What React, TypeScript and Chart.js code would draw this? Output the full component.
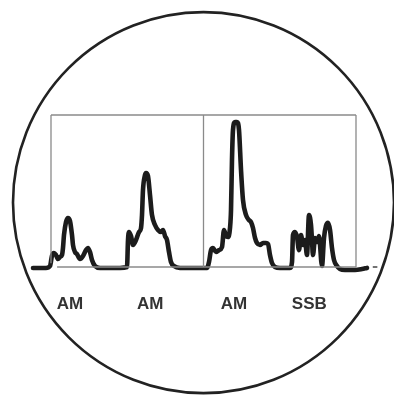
import React, { useEffect, useRef } from "react";
import { Chart, registerables } from "chart.js";

Chart.register(...registerables);

// Spectrum trace: frequency (divisions) and amplitude (divisions)
const traceFreq = [
  -0.59, -0.361, -0.164, -0.033, 0.033, 0.098, 0.164, 0.23, 0.295, 0.361, 0.393, 0.426, 0.492, 0.557, 0.623,
  0.689, 0.721, 0.787, 0.852, 0.951, 1.049, 1.148, 1.213, 1.279, 1.344, 1.443, 1.607, 1.934, 2.262,
  2.492, 2.525, 2.557, 2.623, 2.689, 2.787, 2.885, 2.951, 2.984, 3.016, 3.082, 3.115, 3.18, 3.246, 3.311,
  3.41, 3.508, 3.607, 3.672, 3.738, 3.803, 3.869, 3.934, 4.033, 4.23, 4.557, 4.885,
  5.115, 5.18, 5.246, 5.311, 5.41, 5.508, 5.607, 5.672, 5.738, 5.803, 5.869, 5.902, 5.934, 5.967, 6.033,
  6.098, 6.164, 6.23, 6.295, 6.393, 6.492, 6.557, 6.623, 6.689, 6.754, 6.852, 6.951, 7.049, 7.115, 7.18,
  7.246, 7.344, 7.508, 7.836, 7.902, 7.934, 8.0, 8.066, 8.131, 8.197, 8.262, 8.328, 8.393, 8.459, 8.525,
  8.557, 8.59, 8.656, 8.721, 8.787, 8.885, 8.951, 9.016, 9.082, 9.148, 9.213, 9.279, 9.377, 9.475, 9.639,
  9.967, 10.197, 10.361,
];
const traceAmp = [
  -0.05, -0.05, -0.05, 0.05, 0.6, 0.74, 0.63, 0.42, 0.53, 0.63, 1.0, 1.68, 2.37, 2.58, 2.42,
  1.68, 1.16, 0.79, 0.68, 0.42, 0.58, 0.89, 1.0, 0.79, 0.37, 0.05, -0.05, -0.05, -0.05,
  0.0, 1.42, 1.84, 1.63, 1.16, 1.42, 1.84, 2.05, 2.74, 4.05, 4.84, 4.95, 4.79, 3.79, 2.74,
  2.21, 1.95, 1.84, 1.95, 1.63, 1.42, 0.79, 0.26, 0.05, -0.05, -0.05, -0.05,
  -0.05, 0.26, 0.89, 1.0, 0.79, 0.89, 1.05, 1.95, 1.63, 1.58, 2.05, 3.0, 5.63, 7.21, 7.63,
  7.63, 7.21, 5.11, 3.53, 2.74, 2.47, 2.37, 2.05, 1.53, 1.26, 1.16, 1.26, 1.26, 1.21, 0.63,
  0.21, 0.0, -0.05, -0.05, 0.26, 1.68, 1.84, 1.58, 0.89, 1.68, 1.16, 1.42, 0.63, 2.74, 2.21,
  1.42, 0.63, 1.53, 1.32, 1.63, 0.05, 1.53, 2.16, 2.32, 1.95, 1.0, 0.37, 0.05, -0.11, -0.16,
  -0.16, -0.11, -0.05,
];

// Graticule frame lines (x pairs, y pairs)
const frameXs = [[0, 0], [0, 10], [5, 5], [10, 10], [0.2, 10], [10.55, 10.7]];
const frameYs = [[0.2, 8], [8, 8], [0, 8], [0, 8], [0, 0], [0, 0]];

// Signal labels
const labelNames = ["AM", "AM", "AM", "SSB"];
const labelFreq = [0.62, 3.25, 6.0, 8.47];
const labelAmp = -1.95;

// Screen bezel
const bezelCenterX = 5.0;
const bezelCenterY = 3.39;
const bezelRadiusX = 6.246;

const X_MIN = -1.672;
const X_MAX = 11.246;
const Y_MIN = -6.737;
const Y_MAX = 14.053;

export default function App() {
  const ref = useRef<HTMLCanvasElement | null>(null);

  useEffect(() => {
    if (!ref.current) return;
    const trace = traceFreq.map((x, i) => ({ x, y: traceAmp[i] }));
    const frameSets = frameXs.map((xs, i) => ({
      data: [
        { x: xs[0], y: frameYs[i][0] },
        { x: xs[1], y: frameYs[i][1] },
      ],
      borderColor: i === 5 ? "#444" : "#8a8a8a",
      borderWidth: i === 5 ? 1.5 : 1.3,
      pointRadius: 0,
      tension: 0,
    }));

    const overlay = {
      id: "overlay",
      afterDraw(chart: any) {
        const ctx = chart.ctx;
        const xs = chart.scales.x;
        const ys = chart.scales.y;
        ctx.save();
        ctx.fillStyle = "#333";
        ctx.font = "bold 17px 'Liberation Sans', Arial, sans-serif";
        ctx.textAlign = "center";
        ctx.textBaseline = "middle";
        labelNames.forEach((t, i) => {
          ctx.fillText(t, xs.getPixelForValue(labelFreq[i]), ys.getPixelForValue(labelAmp));
        });
        const cx = xs.getPixelForValue(bezelCenterX);
        const cy = ys.getPixelForValue(bezelCenterY);
        const r = xs.getPixelForValue(bezelCenterX + bezelRadiusX) - cx;
        ctx.beginPath();
        ctx.arc(cx, cy, r, 0, Math.PI * 2);
        ctx.strokeStyle = "#222";
        ctx.lineWidth = 2.6;
        ctx.stroke();
        ctx.restore();
      },
    };

    const chart = new Chart(ref.current, {
      type: "line",
      data: {
        datasets: [
          ...frameSets,
          {
            data: trace,
            borderColor: "#1c1c1c",
            borderWidth: 4.6,
            pointRadius: 0,
            tension: 0.25,
            cubicInterpolationMode: "monotone",
            borderJoinStyle: "round",
            borderCapStyle: "round",
          } as any,
        ],
      },
      options: {
        animation: false,
        responsive: false,
        maintainAspectRatio: false,
        layout: { padding: 0 },
        plugins: { legend: { display: false }, tooltip: { enabled: false } },
        scales: {
          x: { type: "linear", min: X_MIN, max: X_MAX, display: false },
          y: { type: "linear", min: Y_MIN, max: Y_MAX, display: false },
        },
      },
      plugins: [overlay],
    });
    return () => chart.destroy();
  }, []);

  return (
    <div style={{ position: "absolute", left: 0, top: 0, width: 394, height: 395, background: "#fff" }}>
      <canvas ref={ref} width={394} height={395} style={{ width: 394, height: 395 }} />
    </div>
  );
}
